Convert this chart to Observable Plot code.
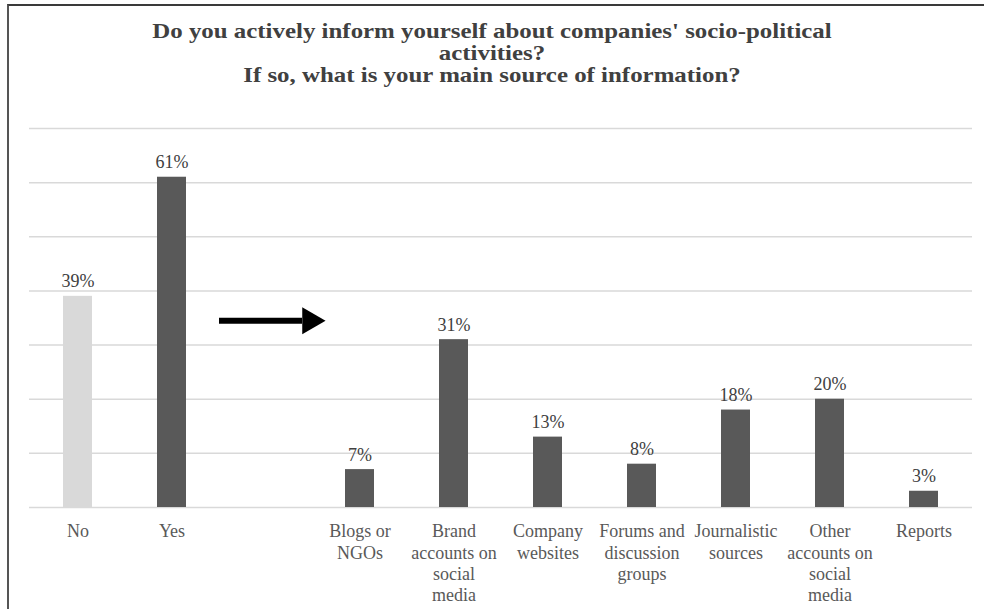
<!DOCTYPE html>
<html>
<head>
<meta charset="utf-8">
<script src="https://cdn.jsdelivr.net/npm/d3@7"></script>
<script src="https://cdn.jsdelivr.net/npm/@observablehq/plot@0.6"></script>
<style>
  html, body { margin: 0; padding: 0; background: #fff; }
  body { width: 984px; height: 609px; position: relative; overflow: hidden; font-family: "Liberation Serif", "DejaVu Serif", serif; }
  #frame { position: absolute; left: 7px; top: 4px; width: 977px; height: 605px; border-top: 2px solid #3a3a3a; border-left: 2px solid #555; box-sizing: border-box; }
  #title { position: absolute; left: 0; top: 20px; width: 984px; text-align: center; font-weight: bold; font-size: 21px; line-height: 22px; color: #404040; font-family: "Liberation Serif", "DejaVu Serif", serif; transform: scaleX(1.185); transform-origin: 492px 0; }
  #chart { position: absolute; left: 0; top: 100px; }
</style>
</head>
<body>
<div id="frame"></div>
<div id="title">Do you actively inform yourself about companies' socio-political<br>activities?<br>If so, what is your main source of information?</div>
<div id="chart"></div>
<script>
// Data
const categories = ["No", "Yes", " ", "Blogs or NGOs", "Brand accounts on social media", "Company websites",
  "Forums and discussion groups", "Journalistic sources", "Other accounts on social media", "Reports"];
const tickLabels = ["No", "Yes", "", "Blogs or\nNGOs", "Brand\naccounts on\nsocial\nmedia", "Company\nwebsites",
  "Forums and\ndiscussion\ngroups", "Journalistic\nsources", "Other\naccounts on\nsocial\nmedia", "Reports"];
const values = [39, 61, null, 7, 31, 13, 8, 18, 20, 3];
const gridTicks = [0, 10, 20, 30, 40, 50, 60, 70];
const arrowLevel = 34.5; // % level of the "Yes → sources" arrow

const data = categories.map((c, i) => ({category: c, value: values[i]})).filter(d => d.value != null);
const labelOf = new Map(categories.map((c, i) => [c, tickLabels[i]]));

const chart = Plot.plot({
  width: 984,
  height: 509,
  marginTop: 28,
  marginBottom: 102,
  marginLeft: 29,
  marginRight: 12,
  style: {fontFamily: "Liberation Serif, DejaVu Serif, serif", background: "transparent"},
  x: {domain: categories, paddingInner: 0.69, paddingOuter: 0.345, axis: null},
  y: {domain: [0, 70], axis: null},
  marks: [
    Plot.ruleY(gridTicks, {stroke: "#d9d9d9", strokeWidth: 1.5}),
    Plot.barY(data, {x: "category", y: "value", fill: d => d.category === "No" ? "#d9d9d9" : "#595959"}),
    Plot.text(data, {x: "category", y: "value", text: d => d.value + "%", lineAnchor: "bottom", dy: -9,
      fontSize: 18, fill: "#404040", fontFamily: "Liberation Serif, DejaVu Serif, serif"}),
    Plot.axisX({tickSize: 0, tickPadding: 15, fontSize: 18, lineHeight: 1.17, fill: "#595959",
      fontFamily: "Liberation Serif, DejaVu Serif, serif",
      tickFormat: c => labelOf.get(c), label: null, textOverflow: null}),
    Plot.arrow([arrowLevel], {x1: () => "Yes", x2: () => "Blogs or NGOs", y1: d => d, y2: d => d,
      insetStart: 47, insetEnd: 58, headLength: 0, stroke: "#000", strokeWidth: 6, strokeLinecap: "butt"}),
    Plot.dot([arrowLevel], {x: () => " ", y: d => d, symbol: "triangle", r: 10, rotate: 90,
      fill: "#000", stroke: null, dx: 44})
  ]
});
document.getElementById("chart").appendChild(chart);
</script>
</body>
</html>
